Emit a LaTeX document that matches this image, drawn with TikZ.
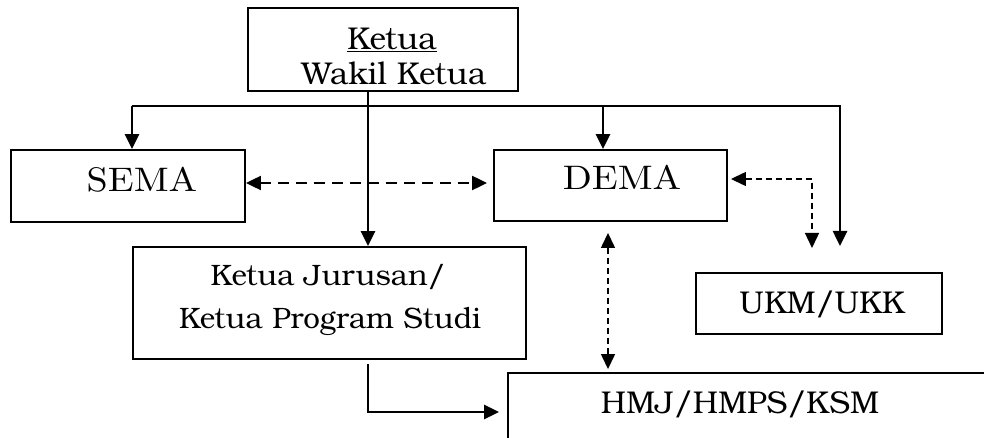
\documentclass[tikz,border=0pt]{standalone}
\usepackage{fontspec}
\usepackage{graphicx}
\setmainfont{TeX Gyre Bonum}
\newfontfamily\lmfont{lmroman10-regular.otf}
\usetikzlibrary{arrows.meta}
\begin{document}
\begin{tikzpicture}[x=1pt,y=-1pt,
  box/.style={draw, line width=1.9pt, inner sep=0pt},
  txt/.style={anchor=base, inner sep=0pt, font=\fontsize{31.5}{36}\selectfont},
  txtk/.style={anchor=base, inner sep=0pt, font=\fontsize{29.5}{36}\selectfont},
  txtl/.style={anchor=base, inner sep=0pt, font=\lmfont\fontsize{34}{40}\selectfont},
  conn/.style={line width=2.6pt},
  arr/.style={conn, -{Triangle[length=15pt,width=14pt]}},
  dashA/.style={line width=2.2pt, dash pattern=on 11pt off 7pt, {Triangle[length=15pt,width=14pt]}-{Triangle[length=15pt,width=14pt]}},
  dashB/.style={line width=1.4pt, dash pattern=on 6pt off 4pt, {Triangle[length=15pt,width=14pt]}-{Triangle[length=15pt,width=14pt]}}
]
\useasboundingbox (0,0) rectangle (984,438);
% boxes
\node[box, minimum width=270pt, minimum height=83pt] (ketua) at (383,49.5) {};
\node[box, minimum width=234pt, minimum height=72pt] (sema) at (128,186) {};
\node[box, minimum width=233pt, minimum height=71pt] (dema) at (610.5,185.5) {};
\node[box, minimum width=393pt, minimum height=112pt] (kj) at (329.5,303) {};
\node[box, minimum width=246pt, minimum height=61pt] (ukm) at (819,303.5) {};
\begin{scope}
\clip (0,0) rectangle (984,438);
\node[box, minimum width=492pt, minimum height=94pt] (hmj) at (754,420) {};
\end{scope}
% texts
\node[txt] (t1) at (392,50) {\underline{Ketua}};
\node[txt] (t2) at (394,85) {Wakil Ketua};
\node[txtl] (t3) at (142,192) {\scalebox{1.12}[1]{SEMA}};
\node[txtl] (t4) at (622,190) {\scalebox{1.12}[1]{DEMA}};
\node[txtk] (t5) at (328,285) {Ketua Jurusan/};
\node[txtk] (t6) at (330,328) {Ketua Program Studi};
\node[txt] (t7) at (822,313) {UKM/UKK};
\node[txt] (t8) at (740,413) {HMJ/HMPS/KSM};
% coordinates
\coordinate (vx) at (368,0);
\coordinate (busL) at (132,106);
\coordinate (busR) at (840,106);
\coordinate (rtip) at (840,246);
\coordinate (dx) at (603,0);
\coordinate (sdy) at (0,183);
\coordinate (duy) at (0,179);
\coordinate (utip) at (812,248);
\coordinate (hx) at (608,0);
\coordinate (ky) at (0,412);
% connectors
\draw[arr] (ketua.south -| vx) -- (kj.north -| vx);
\draw[arr] (busL) -- (busR) -- (rtip);
\draw[arr] (busL) -- (sema.north -| busL);
\draw[arr] (busL -| dx) -- (dema.north -| dx);
\draw[dashA, shorten >=6pt] (sema.east |- sdy) -- (dema.west |- sdy);
\draw[dashB, shorten <=3pt] (dema.east |- duy) -| (utip);
\draw[dashB, shorten <=11pt, shorten >=3pt] (dema.south -| hx) -- (hmj.north -| hx);
\draw[arr, shorten <=4pt, shorten >=8pt] (kj.south -| vx) |- (hmj.west |- ky);
\end{tikzpicture}
\end{document}
